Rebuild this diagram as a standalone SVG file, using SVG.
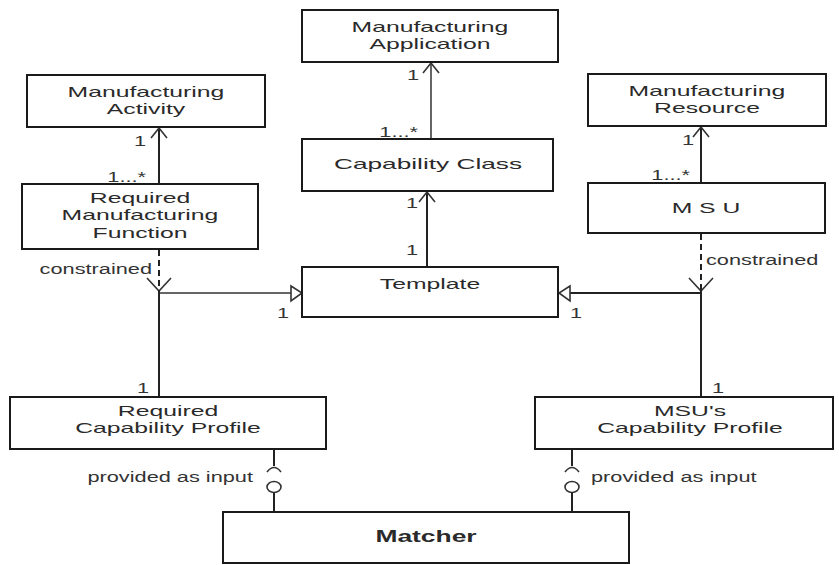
<svg xmlns="http://www.w3.org/2000/svg" width="839" height="565" viewBox="0 0 839 565">
<style>
.box{fill:#fff;stroke:#1a1a1a;stroke-width:2}
.t{font-family:"Liberation Sans",Arial,sans-serif;font-size:15px;fill:#2a2a2a;text-anchor:middle}
.b{font-weight:bold;font-size:16px}
.l{font-family:"Liberation Sans",Arial,sans-serif;font-size:15px;fill:#333}
.e{text-anchor:end}
.m{text-anchor:middle}
.ln{stroke:#222;stroke-width:2;fill:none}
.gl{stroke:#666;stroke-width:2;fill:none}
.da{stroke:#222;stroke-width:2;fill:none;stroke-dasharray:6 4}
.ah{stroke:#333;stroke-width:1.6;fill:none}
.tri{stroke:#333;stroke-width:1.6;fill:#fff}
</style>
<rect width="839" height="565" fill="#fff"/>

<g id="connectors">
  <!-- Capability Class -> Manufacturing Application -->
  <line class="gl" x1="431" y1="139" x2="431" y2="63"/>
  <polyline class="ah" points="423,73 431,63 439,73"/>
  <!-- Template -> Capability Class -->
  <line class="ln" x1="427" y1="267" x2="427" y2="192"/>
  <polyline class="ah" points="419,202 427,192 435,202"/>
  <!-- RMF -> Manufacturing Activity -->
  <line class="ln" x1="159" y1="184" x2="159" y2="128"/>
  <polyline class="ah" points="151,138 159,128 167,138"/>
  <!-- MSU -> Manufacturing Resource -->
  <line class="ln" x1="701" y1="183" x2="701" y2="127"/>
  <polyline class="ah" points="693,137 701,127 709,137"/>
  <!-- constrained left -->
  <line class="da" x1="159" y1="250" x2="159" y2="290"/>
  <polyline class="ah" points="147,278 159,291 171,278"/>
  <line class="gl" x1="159" y1="293" x2="291" y2="293"/>
  <polygon class="tri" points="291,286 302,293 291,301"/>
  <line class="ln" x1="159" y1="290" x2="159" y2="397"/>
  <!-- constrained right -->
  <line class="da" x1="701" y1="234" x2="701" y2="290"/>
  <polyline class="ah" points="689,278 701,291 713,278"/>
  <line class="ln" x1="701" y1="293" x2="570" y2="293"/>
  <polygon class="tri" points="570,286 559,293 570,301"/>
  <line class="ln" x1="701" y1="290" x2="701" y2="397"/>
  <!-- provided as input left -->
  <line class="ln" x1="274" y1="449" x2="274" y2="466"/>
  <path class="ah" d="M267,472 Q274,463 281,472"/>
  <ellipse class="ah" cx="274" cy="487" rx="7" ry="5.5"/>
  <line class="ln" x1="274" y1="492.5" x2="274" y2="512"/>
  <!-- provided as input right -->
  <line class="ln" x1="572" y1="449" x2="572" y2="466"/>
  <path class="ah" d="M565,472 Q572,463 579,472"/>
  <ellipse class="ah" cx="572" cy="487" rx="7" ry="5.5"/>
  <line class="ln" x1="572" y1="492.5" x2="572" y2="512"/>

  <!-- multiplicities / labels -->
  <text class="l m" transform="translate(140,146) scale(1.45,1)">1</text>
  <text class="l e" transform="translate(146,182) scale(1.45,1)">1...*</text>
  <text class="l m" transform="translate(413,80) scale(1.45,1)">1</text>
  <text class="l e" transform="translate(418,137) scale(1.45,1)">1...*</text>
  <text class="l m" transform="translate(412,208) scale(1.45,1)">1</text>
  <text class="l m" transform="translate(412,255) scale(1.45,1)">1</text>
  <text class="l m" transform="translate(688,145) scale(1.45,1)">1</text>
  <text class="l e" transform="translate(690,180) scale(1.45,1)">1...*</text>
  <text class="l e" transform="translate(152,274) scale(1.45,1)">constrained</text>
  <text class="l" transform="translate(706,265) scale(1.45,1)">constrained</text>
  <text class="l m" transform="translate(283,318) scale(1.45,1)">1</text>
  <text class="l m" transform="translate(576,318) scale(1.45,1)">1</text>
  <text class="l m" transform="translate(143,393) scale(1.45,1)">1</text>
  <text class="l m" transform="translate(718,393) scale(1.45,1)">1</text>
  <text class="l e" transform="translate(253,482) scale(1.45,1)">provided as input</text>
  <text class="l" transform="translate(591,482) scale(1.45,1)">provided as input</text>
</g>

<g id="manufacturing-application">
  <rect class="box" x="302" y="10" width="256" height="52"/>
  <text class="t" transform="translate(430,32) scale(1.65,1)">Manufacturing</text>
  <text class="t" transform="translate(430,49) scale(1.65,1)">Application</text>
</g>
<g id="manufacturing-activity">
  <rect class="box" x="27" y="75" width="238" height="52"/>
  <text class="t" transform="translate(146,97) scale(1.65,1)">Manufacturing</text>
  <text class="t" transform="translate(146,114) scale(1.65,1)">Activity</text>
</g>
<g id="manufacturing-resource">
  <rect class="box" x="588" y="74" width="238" height="52"/>
  <text class="t" transform="translate(707,96) scale(1.65,1)">Manufacturing</text>
  <text class="t" transform="translate(707,113) scale(1.65,1)">Resource</text>
</g>
<g id="capability-class">
  <rect class="box" x="302" y="139" width="251" height="52"/>
  <text class="t" transform="translate(428,169) scale(1.75,1)">Capability Class</text>
</g>
<g id="required-manufacturing-function">
  <rect class="box" x="22" y="184" width="236" height="65"/>
  <text class="t" transform="translate(140,203) scale(1.65,1)">Required</text>
  <text class="t" transform="translate(140,220) scale(1.65,1)">Manufacturing</text>
  <text class="t" transform="translate(140,238) scale(1.65,1)">Function</text>
</g>
<g id="msu">
  <rect class="box" x="588" y="183" width="237" height="50"/>
  <text class="t" transform="translate(706,213) scale(1.65,1)">M S U</text>
</g>
<g id="template">
  <rect class="box" x="302" y="267" width="256" height="50"/>
  <text class="t" transform="translate(430,289) scale(1.65,1)">Template</text>
</g>
<g id="required-capability-profile">
  <rect class="box" x="10" y="397" width="316" height="52"/>
  <text class="t" transform="translate(168,416) scale(1.65,1)">Required</text>
  <text class="t" transform="translate(168,433) scale(1.65,1)">Capability Profile</text>
</g>
<g id="msus-capability-profile">
  <rect class="box" x="535" y="397" width="298" height="52"/>
  <text class="t" transform="translate(690,416) scale(1.65,1)">MSU's</text>
  <text class="t" transform="translate(690,433) scale(1.65,1)">Capability Profile</text>
</g>
<g id="matcher">
  <rect class="box" x="223" y="512" width="406" height="51"/>
  <text class="t b" transform="translate(426,542) scale(1.65,1)">Matcher</text>
</g>
</svg>
